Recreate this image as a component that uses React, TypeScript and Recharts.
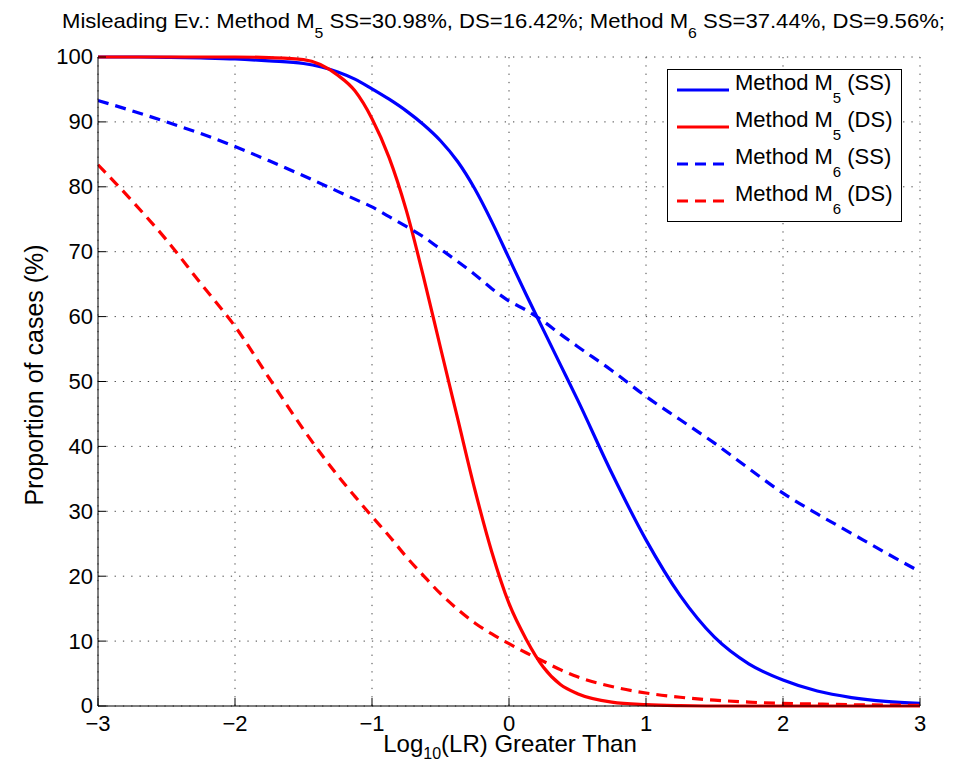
import React from "react";
import { LineChart, Line, XAxis, YAxis, CartesianGrid, Legend } from "recharts";

// log10(LR) thresholds
const xs = [-3, -2.75, -2.5, -2.25, -2, -1.75, -1.5, -1.25, -1.125, -1, -0.875, -0.75, -0.625, -0.5, -0.375, -0.25, -0.125, 0, 0.125, 0.25, 0.375, 0.5, 0.75, 1, 1.25, 1.5, 1.75, 2, 2.25, 2.5, 2.75, 3];

// proportion of cases (%) above each threshold
const m5ss = [100, 100, 99.95, 99.85, 99.7, 99.4, 99.0, 97.7, 96.6, 95.1, 93.5, 91.7, 89.6, 87.1, 83.9, 79.7, 74.6, 69.0, 63.4, 58.0, 52.6, 47.2, 35.9, 25.6, 17.0, 10.6, 6.5, 4.0, 2.3, 1.3, 0.7, 0.4];
const m5ds = [100, 100, 100, 100, 100, 99.9, 99.6, 97.2, 94.8, 90.5, 84.5, 76.4, 66.2, 55.2, 44.3, 33.4, 23.7, 15.8, 10.3, 6.0, 3.3, 1.9, 0.6, 0.2, 0.05, 0, 0, 0, 0, 0, 0, 0];
const m6ss = [93.3, 91.7, 90.0, 88.2, 86.2, 84.0, 81.7, 79.3, 78.1, 76.9, 75.4, 73.9, 72.3, 70.4, 68.5, 66.5, 64.3, 62.4, 61.0, 59.3, 57.3, 55.4, 51.7, 47.7, 44.1, 40.5, 36.6, 32.8, 29.6, 26.6, 23.6, 20.7];
const m6ds = [83.4, 77.8, 71.8, 65.1, 58.5, 50.5, 42.6, 35.5, 32.3, 29.2, 26.2, 23.0, 20.1, 17.3, 14.9, 12.8, 11.1, 9.6, 8.2, 6.9, 5.6, 4.5, 3.0, 2.0, 1.35, 0.9, 0.6, 0.4, 0.3, 0.2, 0.15, 0.1];

const xTicks = [-3, -2, -1, 0, 1, 2, 3];
const xTickLabels = ["\u22123", "\u22122", "\u22121", "0", "1", "2", "3"];
const yTicks = [0, 10, 20, 30, 40, 50, 60, 70, 80, 90, 100];

const series = [
  { key: "m5ss", name: "Method M", sub: "5", tag: " (SS)", color: "#0000ff", dash: undefined },
  { key: "m5ds", name: "Method M", sub: "5", tag: " (DS)", color: "#ff0000", dash: undefined },
  { key: "m6ss", name: "Method M", sub: "6", tag: " (SS)", color: "#0000ff", dash: "11 7" },
  { key: "m6ds", name: "Method M", sub: "6", tag: " (DS)", color: "#ff0000", dash: "11 7" },
];

const rows = xs.map((x, i) => ({ x, m5ss: m5ss[i], m5ds: m5ds[i], m6ss: m6ss[i], m6ds: m6ds[i] }));

const FONT = "'Liberation Sans', Arial, Helvetica, sans-serif";

const XTick = (props: any) => {
  const { x, y, payload } = props;
  const idx = xTicks.indexOf(payload.value);
  return (
    <g>
      <line x1={x} x2={x} y1={y} y2={y - 8} stroke="#000" />
      <text x={x} y={y + 25} textAnchor="middle" fontSize={22} fontFamily={FONT} fill="#000">
        {xTickLabels[idx]}
      </text>
    </g>
  );
};

const YTick = (props: any) => {
  const { x, y, payload } = props;
  return (
    <g>
      <line x1={x} x2={x + 8} y1={y} y2={y} stroke="#000" />
      <text x={x - 5} y={y} dy="0.34em" textAnchor="end" fontSize={22} fontFamily={FONT} fill="#000">
        {payload.value}
      </text>
    </g>
  );
};

const LegendBox = () => (
  <svg width={236} height={154} style={{ display: "block" }}>
    <rect x={0.5} y={0.5} width={234} height={152} fill="#fff" stroke="#000" />
    {series.map((s, i) => {
      const ly = 21 + i * 37;
      return (
        <g key={s.key}>
          <line x1={10} x2={62} y1={ly} y2={ly} stroke={s.color} strokeWidth={3} strokeDasharray={s.dash} />
          <text x={68} y={ly} fontSize={22} fontFamily={FONT} fill="#000">
            {s.name}
            <tspan dy={13} fontSize={15}>{s.sub}</tspan>
            <tspan dy={-13}>{s.tag}</tspan>
          </text>
        </g>
      );
    })}
  </svg>
);

export default function App() {
  return (
    <div style={{ position: "absolute", left: 0, top: 0 }}>
      <LineChart width={958} height={765} data={rows} margin={{ top: 57, right: 38, left: 0, bottom: 0 }}>
        <CartesianGrid stroke="#444" strokeDasharray="1.3 7" />
        <XAxis
          dataKey="x"
          type="number"
          domain={[-3, 3]}
          ticks={xTicks}
          height={59}
          tickSize={0}
          tickMargin={0}
          tick={<XTick />}
          axisLine={{ stroke: "#000" }}
          tickLine={false}
          allowDataOverflow
        />
        <YAxis
          type="number"
          domain={[0, 100]}
          ticks={yTicks}
          width={98}
          tickSize={0}
          tickMargin={0}
          tick={<YTick />}
          axisLine={{ stroke: "#000" }}
          tickLine={false}
        />
        {series.map((s) => (
          <Line
            key={s.key}
            dataKey={s.key}
            type="monotone"
            stroke={s.color}
            strokeWidth={3.2}
            strokeDasharray={s.dash}
            dot={false}
            activeDot={false}
            isAnimationActive={false}
          />
        ))}
        <Legend
          layout="vertical"
          align="center"
          verticalAlign="middle"
          content={() => <LegendBox />}
          wrapperStyle={{ position: "absolute", left: 667, top: 69, width: 236, height: 154 }}
        />
        <text x={62} y={28} fontSize={21} fontFamily={FONT} fill="#000" textLength={883} lengthAdjust="spacingAndGlyphs">
          Misleading Ev.: Method M
          <tspan dy={10} fontSize={15}>5</tspan>
          <tspan dy={-10}> SS=30.98%, DS=16.42%; Method M</tspan>
          <tspan dy={10} fontSize={15}>6</tspan>
          <tspan dy={-10}> SS=37.44%, DS=9.56%;</tspan>
        </text>
        <text x={510} y={752} textAnchor="middle" fontSize={24} fontFamily={FONT} fill="#000">
          Log
          <tspan dy={7} fontSize={16}>10</tspan>
          <tspan dy={-7}>(LR) Greater Than</tspan>
        </text>
        <text x={43} y={375} transform="rotate(-90, 43, 375)" textAnchor="middle" fontSize={25} fontFamily={FONT} fill="#000">
          Proportion of cases (%)
        </text>
      </LineChart>
    </div>
  );
}
